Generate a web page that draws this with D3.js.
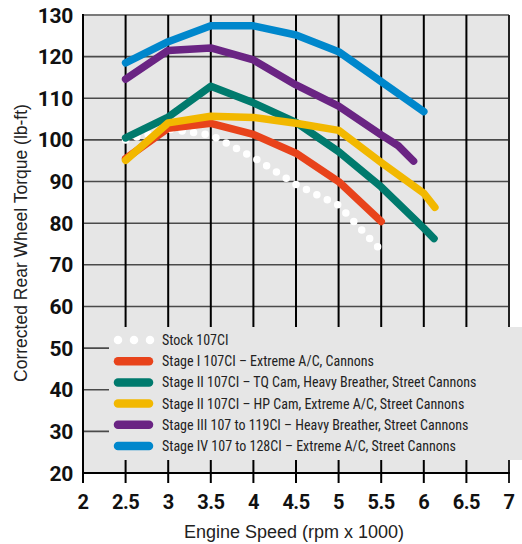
<!DOCTYPE html>
<html>
<head>
<meta charset="utf-8">
<script src="https://cdn.jsdelivr.net/npm/d3@7"></script>
<style>
  html, body { margin: 0; padding: 0; background: #fff; }
  svg { display: block; }
</style>
</head>
<body>
<svg id="chart" width="522" height="544"></svg>
<script>
// ---- data ----
const seriesNames = [
  "Stock 107CI",
  "Stage I 107CI – Extreme A/C, Cannons",
  "Stage II 107CI – TQ Cam, Heavy Breather, Street Cannons",
  "Stage II 107CI – HP Cam, Extreme A/C, Street Cannons",
  "Stage III 107 to 119CI – Heavy Breather, Street Cannons",
  "Stage IV 107 to 128CI – Extreme A/C, Street Cannons"
];
const seriesColors = ["#ffffff", "#e8431b", "#007a6d", "#f2b800", "#6a2483", "#0087cc"];

const stockRpm    = [2.5, 3, 3.5, 4, 4.5, 5, 5.5];
const stockTorque = [100, 102.6, 101.2, 95.8, 89.3, 84.3, 73.4];

const stage1Rpm    = [2.5, 3, 3.5, 4, 4.5, 5, 5.5];
const stage1Torque = [95.5, 102.8, 104, 101.3, 96.8, 90, 80.4];

const stage2tqRpm    = [2.5, 3, 3.5, 4, 4.5, 5, 5.5, 6, 6.12];
const stage2tqTorque = [100.5, 105.5, 112.9, 108.9, 104.2, 97.2, 88.7, 78.8, 76.3];

const stage2hpRpm    = [2.5, 3, 3.5, 4, 4.5, 5, 5.5, 6, 6.13];
const stage2hpTorque = [95.1, 104.1, 105.7, 105.4, 104, 102.3, 94.6, 87.2, 83.8];

const stage3Rpm    = [2.5, 3, 3.5, 4, 4.5, 5, 5.5, 5.7, 5.88];
const stage3Torque = [114.6, 121.5, 122.1, 119.2, 113.2, 108.1, 101.2, 98.6, 94.9];

const stage4Rpm    = [2.5, 3, 3.5, 4, 4.5, 5, 5.5, 6];
const stage4Torque = [118.5, 123.6, 127.4, 127.4, 125.2, 121.2, 114, 106.8];

const xTicks = [2, 2.5, 3, 3.5, 4, 4.5, 5, 5.5, 6, 6.5, 7];
const yTicks = [20, 30, 40, 50, 60, 70, 80, 90, 100, 110, 120, 130];

const xTitle = "Engine Speed (rpm x 1000)";
const yTitle = "Corrected Rear Wheel Torque (lb-ft)";

// ---- build ----
const rpmArrays = [stockRpm, stage1Rpm, stage2tqRpm, stage2hpRpm, stage3Rpm, stage4Rpm];
const torqueArrays = [stockTorque, stage1Torque, stage2tqTorque, stage2hpTorque, stage3Torque, stage4Torque];
const series = seriesNames.map((name, i) => ({
  name, color: seriesColors[i], dotted: i === 0,
  values: rpmArrays[i].map((r, j) => ({ r, t: torqueArrays[i][j] }))
}));

const svg = d3.select("#chart");
const L = 83, R = 509, T = 15, B = 473;
const x = d3.scaleLinear().domain([2, 7]).range([L, R]);
const y = d3.scaleLinear().domain([20, 130]).range([B, T]);

// plot background
svg.append("rect").attr("x", L).attr("y", T).attr("width", R - L).attr("height", B - T).attr("fill", "#e6e6e6");

// horizontal grid
svg.append("g").selectAll("line").data(yTicks.filter(v => v > 20 && v < 130)).join("line")
  .attr("x1", L).attr("x2", R).attr("y1", d => y(d)).attr("y2", d => y(d))
  .attr("stroke", "#4a4a4a").attr("stroke-width", 1.6);
// top border
svg.append("line").attr("x1", L).attr("x2", R).attr("y1", T).attr("y2", T)
  .attr("stroke", "#7a7a7a").attr("stroke-width", 2);

// vertical grid + ticks (extend below axis)
svg.append("g").selectAll("line").data(xTicks.filter(v => v > 2)).join("line")
  .attr("x1", d => x(d)).attr("x2", d => x(d)).attr("y1", T).attr("y2", B + 10)
  .attr("stroke", d => d === 7 ? "#222" : "#000").attr("stroke-width", 2);

// data lines
const line = d3.line().x(d => x(d.r)).y(d => y(d.t));
const gLines = svg.append("g");
series.slice(1).forEach(s => {
  gLines.append("path").datum(s.values).attr("d", line)
    .attr("fill", "none").attr("stroke", s.color).attr("stroke-width", 7.5)
    .attr("stroke-linecap", "round").attr("stroke-linejoin", "round");
});
// stock dotted line sits behind the coloured lines
gLines.insert("path", ":first-child").datum(series[0].values).attr("d", line)
  .attr("fill", "none").attr("stroke", "#fff").attr("stroke-width", 7.5)
  .attr("stroke-linecap", "round").attr("stroke-dasharray", "0 11.6");

// legend box
const lgX = 109, lgY = 327, lgW = 522 - 109, lgH = 133;
svg.append("rect").attr("x", lgX).attr("y", lgY).attr("width", lgW).attr("height", lgH).attr("fill", "#e6e6e6");
const lg = svg.append("g");
series.forEach((s, i) => {
  const cy = 340 + i * 21.2;
  lg.append("line").attr("x1", 118).attr("x2", s.dotted ? 150.5 : 149).attr("y1", cy).attr("y2", cy)
    .attr("stroke", s.color).attr("stroke-width", 8.5).attr("stroke-linecap", "round")
    .attr("stroke-dasharray", s.dotted ? "0 16" : null);
  lg.append("text").attr("x", 162).attr("y", cy).attr("dy", "0.36em")
    .attr("font-family", "'Liberation Sans Narrow', 'Roboto Condensed', Arial, sans-serif")
    .attr("font-size", 14).attr("fill", "#222").text(s.name);
});

// axes lines
svg.append("line").attr("x1", L).attr("x2", R + 1).attr("y1", B).attr("y2", B).attr("stroke", "#000").attr("stroke-width", 2);
svg.append("line").attr("x1", L).attr("x2", L).attr("y1", T - 1).attr("y2", B + 10).attr("stroke", "#000").attr("stroke-width", 2);

// tick labels
svg.append("g").selectAll("text").data(xTicks).join("text")
  .attr("x", d => x(d)).attr("y", 509).attr("text-anchor", "middle")
  .attr("font-family", "Roboto, Arial, sans-serif").attr("font-weight", 700).attr("font-size", 20)
  .attr("letter-spacing", "-0.5").attr("fill", "#111").text(d => d);
svg.append("g").selectAll("text").data(yTicks).join("text")
  .attr("x", 73).attr("y", d => y(d)).attr("dy", "0.36em").attr("text-anchor", "end")
  .attr("font-family", "Roboto, Arial, sans-serif").attr("font-weight", 700).attr("font-size", 21)
  .attr("letter-spacing", "-0.3").attr("fill", "#111").text(d => d);

// titles
svg.append("text").attr("x", 294).attr("y", 538).attr("text-anchor", "middle")
  .attr("font-family", "'Liberation Sans', Arial, sans-serif").attr("font-size", 18).attr("fill", "#222")
  .text(xTitle);
svg.append("text").attr("transform", "translate(27,243) rotate(-90)").attr("text-anchor", "middle")
  .attr("font-family", "'Liberation Sans', Arial, sans-serif").attr("font-size", 17.5).attr("fill", "#222")
  .text(yTitle);
</script>
</body>
</html>
